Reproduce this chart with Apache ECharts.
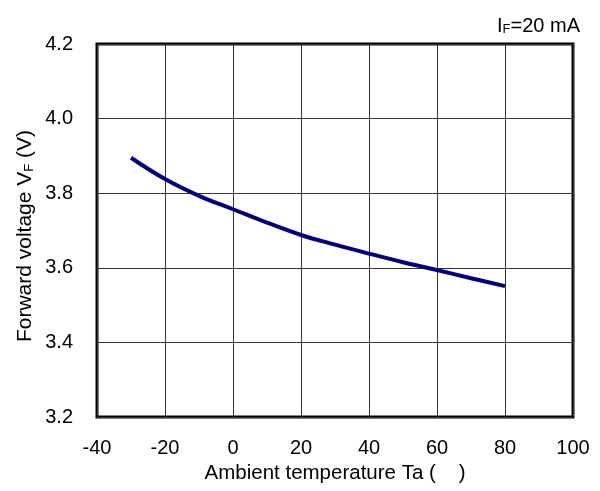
<!DOCTYPE html>
<html><head><meta charset="utf-8">
<script src="https://cdn.jsdelivr.net/npm/echarts@6/dist/echarts.min.js"></script>
<style>html,body{margin:0;padding:0;background:#fff}#c{width:600px;height:491px}</style>
</head><body><div id="c"></div>
<script>
const temps = [-30, -20, -10, 0, 10, 20, 30, 40, 50, 60, 70, 80];
const vf = [3.895, 3.838, 3.793, 3.757, 3.721, 3.688, 3.662, 3.638, 3.615, 3.594, 3.572, 3.551];
const xTicks = [-40, -20, 0, 20, 40, 60, 80, 100];
const yTicks = [3.2, 3.4, 3.6, 3.8, 4.0, 4.2];
const font = 'Liberation Sans, Arial, sans-serif';
const narrow = "'Liberation Sans Narrow', 'Liberation Sans', Arial, sans-serif";
const chart = echarts.init(document.getElementById('c'));
chart.setOption({
  animation: false,
  title: {
    text: '{a|I}{s|F}{a|=20 mA}',
    right: 15, top: 11,
    textStyle: { fontWeight: 'normal', rich: {
      a: { fontFamily: font, fontSize: 20, color: '#000', fontWeight: 'normal' },
      s: { fontFamily: font, fontSize: 13, color: '#000', verticalAlign: 'bottom', padding: [7, 0, 0, 0] }
    } }
  },
  graphic: [{
    type: 'text', x: 25, y: 236, rotation: Math.PI / 2,
    style: {
      text: '{a|Forward voltage V}{s|F}{a| (V)}',
      align: 'center', verticalAlign: 'middle',
      rich: {
        a: { fontFamily: narrow, fontSize: 21, fill: '#000' },
        s: { fontFamily: narrow, fontSize: 13, fill: '#000', verticalAlign: 'bottom', padding: [8, 0, 0, 0] }
      }
    }
  }],
  grid: { left: 97, right: 27, top: 44, bottom: 74, show: true, borderColor: '#000', borderWidth: 3, backgroundColor: 'transparent' },
  xAxis: {
    type: 'value', min: -40, max: 100, interval: 20,
    axisLine: { show: false }, axisTick: { show: false },
    splitLine: { show: true, lineStyle: { color: '#333', width: 1 } },
    axisLabel: { margin: 21, fontFamily: font, fontSize: 20, color: '#000' },
    name: 'Ambient temperature Ta (    )', nameLocation: 'middle', nameGap: 46,
    nameTextStyle: { fontFamily: font, fontSize: 20.5, color: '#000' }
  },
  yAxis: {
    type: 'value', min: 3.2, max: 4.2, interval: 0.2,
    axisLine: { show: false }, axisTick: { show: false },
    splitLine: { show: true, lineStyle: { color: '#333', width: 1 } },
    axisLabel: { margin: 24, fontFamily: font, fontSize: 20, color: '#000', formatter: v => v.toFixed(1) }
  },
  series: [{
    type: 'line', data: temps.map((t, i) => [t, vf[i]]), smooth: 0.4, showSymbol: false,
    lineStyle: { color: '#000080', width: 4 }
  }]
});
</script></body></html>
